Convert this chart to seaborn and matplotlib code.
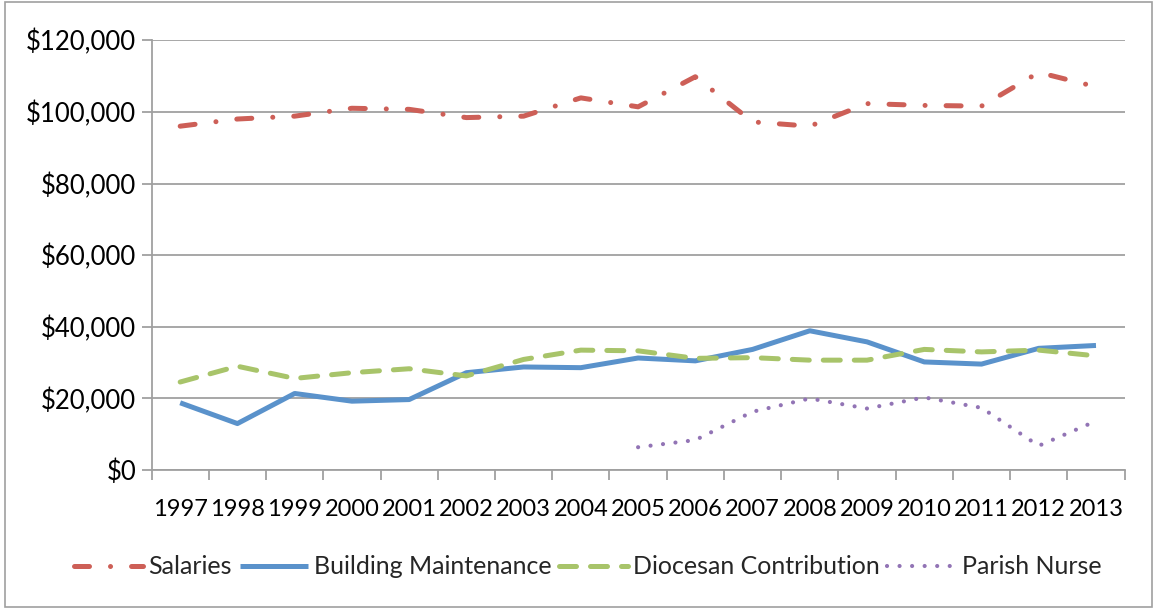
import matplotlib
matplotlib.use("Agg")
import matplotlib.pyplot as plt
import matplotlib.ticker as mticker
import numpy as np
import pandas as pd
import seaborn as sns

years = list(range(1997, 2014))
salaries = [96000, 98000, 98800, 101000, 100700, 98400, 98800, 103900, 101400,
            109800, 97200, 96000, 102300, 101800, 101600, 111000, 107000]
building = [18800, 13000, 21400, 19250, 19700, 27200, 28800, 28600, 31300,
            30500, 33700, 38900, 35800, 30200, 29600, 34000, 34800]
diocesan = [24600, 29000, 25600, 27200, 28300, 26300, 30900, 33500, 33300,
            31200, 31400, 30700, 30700, 33700, 33000, 33500, 31900]
nurse = [np.nan] * 8 + [6400, 8400, 16300, 20000, 17200, 20300, 17400, 6800, 13700]

series_names = ["Salaries", "Building Maintenance", "Diocesan Contribution", "Parish Nurse"]
colors = ["#CD5F57", "#5A92CB", "#A8C46A", "#9274B5"]

df = pd.DataFrame({"Year": years, "Salaries": salaries,
                   "Building Maintenance": building,
                   "Diocesan Contribution": diocesan,
                   "Parish Nurse": nurse})
long = df.melt(id_vars="Year", var_name="Series", value_name="Amount").dropna()

sns.set_theme(style="white")
plt.rcParams["font.family"] = ["Lato", "DejaVu Sans"]

fig = plt.figure(figsize=(11.57, 6.09), dpi=100)
ax = fig.add_axes([0.131, 0.228, 0.841, 0.706])

# dash patterns, in linewidth units
dash_styles = {
    "Salaries": (3.0, 4.2, 0.01, 4.2),
    "Building Maintenance": None,
    "Diocesan Contribution": (3.4, 2.8),
    "Parish Nurse": (0.01, 3.0),
}
lw = {"Salaries": 3.6, "Building Maintenance": 3.6,
      "Diocesan Contribution": 3.6, "Parish Nurse": 3.0}

for name, col in zip(series_names, colors):
    sub = long[long["Series"] == name]
    sns.lineplot(data=sub, x="Year", y="Amount", ax=ax, color=col,
                 linewidth=lw[name], label=name, legend=False, zorder=3)
    line = ax.get_lines()[-1]
    if dash_styles[name] is not None:
        line.set_dashes(dash_styles[name])
    line.set_dash_capstyle("round")
    line.set_solid_capstyle("butt")
    line.set_solid_joinstyle("round")

ax.set_xlim(1996.5, 2013.5)
ax.set_ylim(0, 120000)
ax.yaxis.set_major_locator(mticker.MultipleLocator(20000))
ax.yaxis.set_major_formatter(mticker.FuncFormatter(lambda v, p: "${:,.0f}".format(v)))
ax.set_xticks(years)
ax.set_xticklabels([str(y) for y in years])
ax.set_xticks(np.arange(1996.5, 2014, 1), minor=True)
ax.tick_params(axis="x", which="major", length=0, labelsize=17, pad=21, labelcolor="black")
ax.tick_params(axis="x", which="minor", length=7, width=1.3, color="#A0A0A0", bottom=True)
ax.tick_params(axis="y", which="major", length=7, width=1.3, color="#A0A0A0",
               labelsize=18.5, pad=4, left=True, labelcolor="black")
ax.set_xlabel("")
ax.set_ylabel("")

ax.grid(axis="y", color="#A0A0A0", linewidth=1.3)
ax.set_axisbelow(True)
for side in ["top", "right"]:
    ax.spines[side].set_visible(False)
for side in ["left", "bottom"]:
    ax.spines[side].set_color("#A0A0A0")
    ax.spines[side].set_linewidth(1.3)

handles = ax.get_lines()[:4]
fig.legend(handles=handles, labels=series_names, loc="center",
           bbox_to_anchor=(0.508, 0.069), ncol=4, frameon=False, fontsize=18,
           handlelength=2.75, handletextpad=0.22, columnspacing=0.3)

fig.patches.append(plt.Rectangle((0.004, 0.004), 0.992, 0.992, transform=fig.transFigure,
                                 fill=False, edgecolor="#A0A0A0", linewidth=1.2))

fig.savefig("out.png", dpi=100)
